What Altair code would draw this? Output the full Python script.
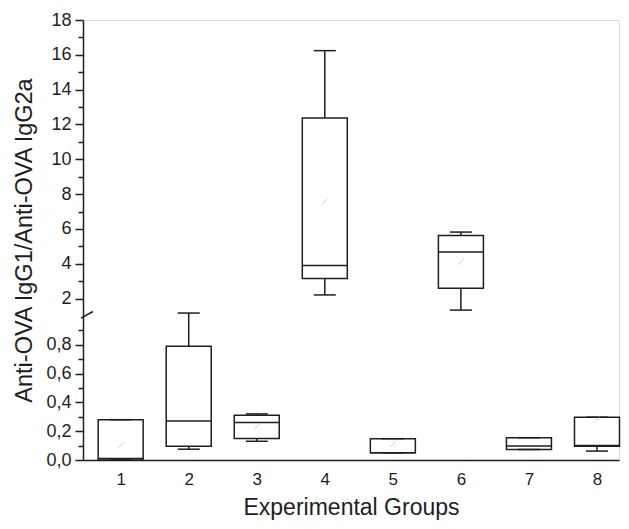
import altair as alt
import pandas as pd

# ---- data ----
groups = [1, 2, 3, 4, 5, 6, 7, 8]
whisker_low = [0.0, 0.075, 0.13, 2.21, 0.05, 1.34, 0.073, 0.062]
q1 = [0.0, 0.096, 0.15, 3.16, 0.05, 2.59, 0.073, 0.096]
median = [0.01, 0.27, 0.26, 3.9, 0.05, 4.68, 0.098, 0.1]
q3 = [0.28, 0.79, 0.31, 12.37, 0.148, 5.63, 0.155, 0.297]
whisker_high = [0.28, 1.17, 0.32, 16.24, 0.148, 5.82, 0.155, 0.297]

mean_groups = [1, 3, 4, 5, 6, 8]
means = [0.1, 0.23, 7.58, 0.11, 4.1, 0.28]

major_ticks = [0, 0.2, 0.4, 0.6, 0.8, 2, 4, 6, 8, 10, 12, 14, 16, 18]
minor_ticks = [0.1, 0.3, 0.5, 0.7, 0.9, 3, 5, 7, 9, 11, 13, 15, 17]
x_ticks = groups

df = pd.DataFrame({"group": groups, "low": whisker_low, "q1": q1,
                   "median": median, "q3": q3, "high": whisker_high})
dmean = pd.DataFrame({"group": mean_groups, "mean": means})

W, H = 536, 440
LOWER_PX = 144
FONT = "Liberation Sans"
INK = "#1e1e1e"

major_js = "[" + ",".join(str(v) for v in major_ticks) + "]"

yscale = alt.Scale(domain=[0, 1, 18], range=[H, H - LOWER_PX, 0], nice=False, zero=False)
yaxis = alt.Axis(
    values=sorted(major_ticks + minor_ticks), tickCount=200,
    labelExpr=("indexof(" + major_js + ", datum.value) >= 0 ? "
               "(datum.value < 1 ? replace(format(datum.value, '.1f'), '.', ',') : format(datum.value, 'd')) : ''"),
    tickSize={"condition": {"test": "indexof(" + major_js + ", datum.value) >= 0", "value": 8}, "value": 5},
    labelOverlap=False, labelFlush=False, grid=False,
    labelFont=FONT, labelFontSize=18, labelColor=INK, labelPadding=4,
    titleFont=FONT, titleFontSize=23.5, titleFontWeight="normal", titleColor=INK, titlePadding=9,
    domainColor=INK, domainWidth=1.5, tickColor=INK, tickWidth=1.5,
)
xscale = alt.Scale(domain=[0.52, 8.25], nice=False, zero=False)
xaxis = alt.Axis(
    values=x_ticks, format="d", ticks=False, grid=False, labelFlush=False, tickCount=50,
    labelFont=FONT, labelFontSize=17, labelColor=INK, labelPadding=11,
    titleFont=FONT, titleFontSize=23, titleFontWeight="normal", titleColor=INK, titlePadding=9,
    domainColor=INK, domainWidth=1.5,
)

TITLE_Y = "Anti-OVA IgG1/Anti-OVA IgG2a"


def X():
    return alt.X("group:Q", scale=xscale, axis=xaxis, title="Experimental Groups")


def Y(field):
    return alt.Y(field + ":Q", scale=yscale, axis=yaxis, title=TITLE_Y)


base = alt.Chart(df)

whisk_lo = base.mark_rule(color=INK, strokeWidth=1.5).encode(x=X(), y=Y("low"), y2="q1:Q")
whisk_hi = base.mark_rule(color=INK, strokeWidth=1.5).encode(x=X(), y=Y("q3"), y2="high:Q")
box = base.mark_bar(size=45, fill="white", stroke=INK, strokeWidth=1.5).encode(
    x=X(), y=Y("q1"), y2="q3:Q")
med = base.mark_tick(orient="horizontal", size=45, thickness=1.5, color=INK, opacity=1).encode(
    x=X(), y=Y("median"))
cap_lo = base.mark_tick(orient="horizontal", size=22, thickness=1.5, color=INK, opacity=1).encode(
    x=X(), y=Y("low"))
cap_hi = base.mark_tick(orient="horizontal", size=22, thickness=1.5, color=INK, opacity=1).encode(
    x=X(), y=Y("high"))
mean_pts = alt.Chart(dmean).mark_point(
    shape="M-1,1L1,-1", size=30, stroke="#bdbdbd", strokeWidth=1, filled=False).encode(
    x=X(), y=Y("mean"))

brk = alt.Chart(pd.DataFrame({"a": [0]})).mark_rule(color=INK, strokeWidth=1.5).encode(
    x=alt.value(-2), x2=alt.value(10), y=alt.datum(0.985), y2=alt.datum(1.26))

chart = alt.layer(box, whisk_lo, whisk_hi, med, cap_lo, cap_hi, mean_pts, brk).properties(
    width=W, height=H,
    autosize=alt.AutoSizeParams(type="none"),
    padding={"left": 75, "top": 12, "right": 2, "bottom": 61},
).configure_view(stroke=None).configure(background="white")

chart.save("out.html", embed_options={"renderer": "svg", "actions": False})
